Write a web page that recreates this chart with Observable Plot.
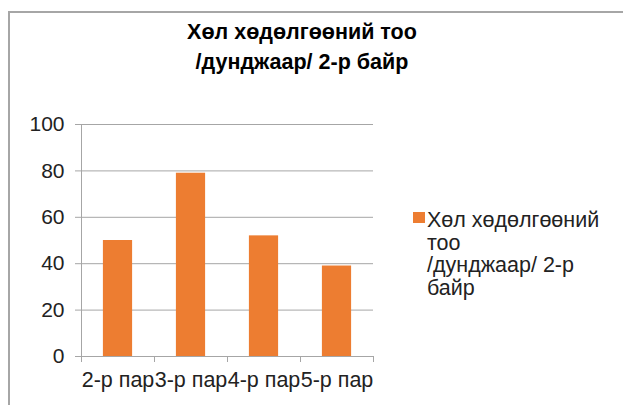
<!DOCTYPE html>
<html>
<head>
<meta charset="utf-8">
<script src="https://cdn.jsdelivr.net/npm/d3@7"></script>
<script src="https://cdn.jsdelivr.net/npm/@observablehq/plot@0.6"></script>
<style>
  html, body { margin: 0; padding: 0; background: #fff; }
  #wrap { position: relative; width: 623px; height: 405px; overflow: hidden; font-family: "Liberation Sans", Arial, sans-serif; }
  #frame { position: absolute; left: 8px; top: 11px; width: 800px; height: 600px; border-left: 2px solid #A6A6A6; border-top: 2px solid #A6A6A6; }
  #chart { position: absolute; left: 0; top: 0; }
  #title { position: absolute; left: 102px; width: 400px; top: 17px; text-align: center; font-weight: bold; font-size: 21.5px; line-height: 30px; color: #000; }
  #legend { position: absolute; left: 413px; top: 209px; width: 210px; font-size: 21.5px; line-height: 22.7px; color: #222; }
  #legend .sw { position: absolute; left: 0; top: 3px; width: 12px; height: 11px; }
  #legend .lt { margin-left: 14px; }
</style>
</head>
<body>
<div id="wrap">
  <div id="frame"></div>
  <div id="chart"></div>
  <div id="title"></div>
  <div id="legend"><div class="sw"></div><div class="lt"></div></div>
</div>
<script>
const titleLines = ["Хөл хөдөлгөөний тоо", "/дунджаар/ 2-р байр"];
const seriesName = "Хөл хөдөлгөөний тоо /дунджаар/ 2-р байр";
const legendLines = ["Хөл хөдөлгөөний", "тоо", "/дунджаар/ 2-р", "байр"];
const categories = ["2-р пар", "3-р пар", "4-р пар", "5-р пар"];
const values = [50, 79, 52, 39];
const yTicks = [0, 20, 40, 60, 80, 100];
const barColor = "#ED7D31";
const gridColor = "#A6A6A6";

const data = categories.map((c, i) => ({cat: c, idx: i, value: values[i]}));
const boundaries = d3.range(categories.length + 1);
const centers = categories.map((c, i) => i + 0.5);

const chart = Plot.plot({
  width: 623,
  height: 405,
  marginLeft: 81,
  marginRight: 250,
  marginTop: 124,
  marginBottom: 49,
  style: {fontFamily: "'Liberation Sans', Arial, sans-serif", fontSize: "21px", color: "#222", background: "transparent"},
  x: {type: "linear", domain: [0, categories.length]},
  y: {domain: [0, 100]},
  marks: [
    Plot.gridY(yTicks, {stroke: gridColor, strokeOpacity: 1}),
    Plot.axisY({ticks: yTicks, tickSize: 6, tickPadding: 11, stroke: gridColor, fill: "#222", label: null, fontSize: 21}),
    Plot.axisX({ticks: boundaries, tickSize: 6, tickFormat: () => "", stroke: gridColor, label: null}),
    Plot.axisX({ticks: centers, tickSize: 0, tickPadding: 15, tickFormat: (v) => categories[Math.floor(v)], fill: "#222", label: null, fontSize: 21.5}),
    Plot.rectY(data, {x1: d => d.idx + 0.3, x2: d => d.idx + 0.7, y: "value", fill: barColor}),
    Plot.ruleY([0], {stroke: gridColor}),
    Plot.ruleX([0], {stroke: gridColor})
  ]
});
document.getElementById("chart").appendChild(chart);
document.getElementById("title").innerHTML = titleLines.join("<br>");
document.querySelector("#legend .sw").style.background = barColor;
document.querySelector("#legend .lt").innerHTML = legendLines.join("<br>");
document.getElementById("legend").title = seriesName;
</script>
</body>
</html>
